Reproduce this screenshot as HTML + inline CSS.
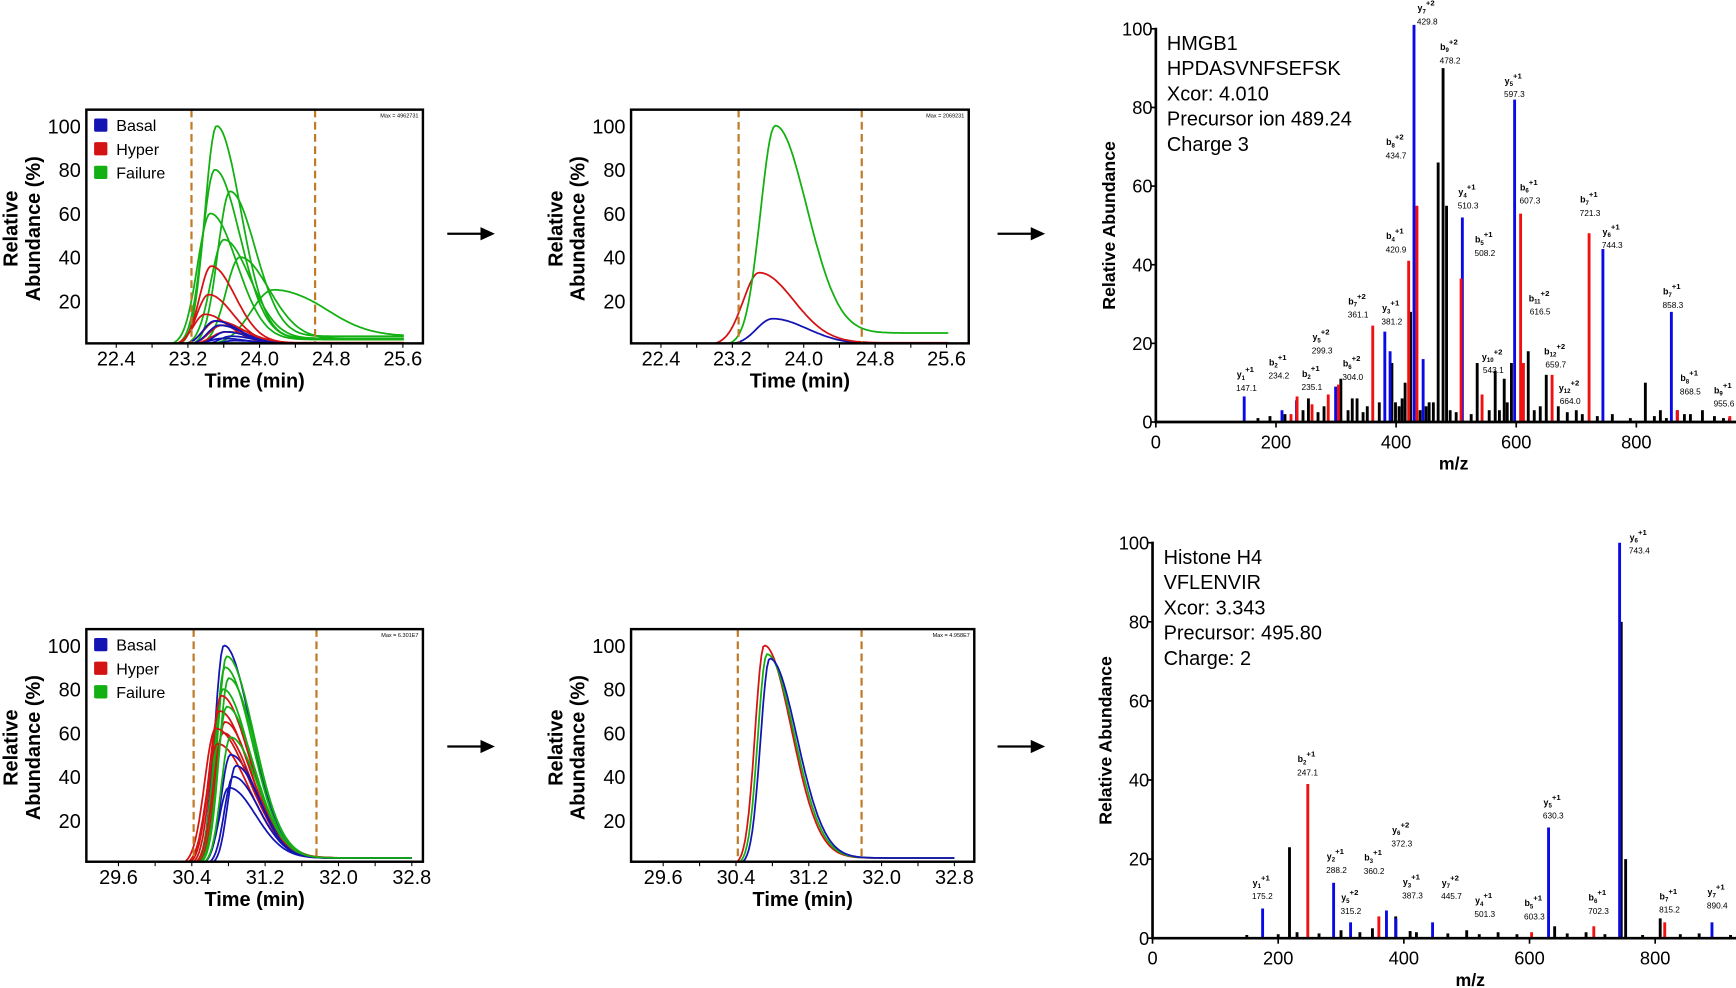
<!DOCTYPE html>
<html><head><meta charset="utf-8"><style>
html,body{margin:0;padding:0;background:#fff;}
svg{display:block;font-family:"Liberation Sans",Arial,sans-serif;}
</style></head><body>
<svg id="fig" width="1736" height="988" viewBox="0 0 1568 892" preserveAspectRatio="none" xmlns="http://www.w3.org/2000/svg"></svg>
<script>
// ---------- chromatogram data ----------
const tlGroup=['g','g','g','g','g','g','g','r','r','r','r','r','r','b','b','b','b','b','b'];
const tlApex=[23.52,23.50,23.67,23.45,23.78,24.15,23.60,23.46,23.43,23.39,23.52,23.58,23.62,23.50,23.55,23.62,23.68,23.58,23.72];
const tlHeight=[100,80,70,60,40,25,48,36,23,14,11,9,6,11,9,6,4,3,2];
const tlSpread=[1,1.05,1.05,1.1,1.2,1.9,1.1,1,1,1,1.1,1.1,1.2,1,1,1,1,1.1,1.1];
const tlTail=[3,3,4,2.5,3,4,3,1,1,0.8,0.6,0.5,0.5,0.5,0.5,0.4,0.4,0.3,0.3];

const tmGroup=['b','r','g'];
const tmApex=[23.65,23.50,23.68];
const tmHeight=[12,33,100];
const tmSpread=[1.2,1.2,1.1];
const tmTail=[0.5,1,5.5];

const blGroup=['b','g','g','g','g','r','r','r','r','r','b','b','b','g','r','b','g'];
const blApex=[30.75,30.78,30.76,30.80,30.74,30.72,30.70,30.76,30.74,30.68,30.82,30.85,30.80,30.78,30.66,30.88,30.82];
const blHeight=[100,95,90,85,80,77,70,65,60,55,50,40,35,72,62,45,58];
const blSpread=[1,1,1,1,1,1.05,1.1,1,1.05,1.15,1,0.95,1,1,1.2,0.9,1];
const blTail=[3,3,3,3,3,3,3,3,3,3,3,3,3,3,3,3,3];

const bmGroup=['r','g','b'];
const bmApex=[30.71,30.74,30.77];
const bmHeight=[100,96,94];
const bmSpread=[1,1,1];
const bmTail=[3,3,3];

// ---------- spectrum data ----------
const s1Mz=[478.2,470,424,415,393,335,254,308,327,399,455,535,565,580,592,620,650,700,815,840,890,910,484,
            170,190,215,245,270,280,320,345,352,372,405,410,440,450,462,490,500,525,555,572,585,630,640,670,685,710,735,760,790,830,850,880,930,945,
            147.1,210,234.2,299.3,381.2,390,429.8,445,510.3,597.3,744.3,858.3,868,955,
            225,235.1,260,287,304.0,361.1,420.9,434.7,508.2,543.1,607.3,612,659.7,721.3,868.5,955.6];
const s1Int=[90,66,28,10,15,6,6,11,6,5,5,15,13,11,15,18,12,3,10,3,2,3,55,
            1,1.5,2,3,2.5,4,3,2.5,4,5,4,6,3,4,5,3,2.5,2,3,3,5,3,4,4,2.5,2,1.5,2,1,1.5,1,2,1.5,1,
            6.5,3,5.5,9,23,18,101,16,52,82,44,28,3,1,
            2,6.5,4.5,7,9.5,24.5,41,55,36.5,7,53,15,12,48,3,1.5];
const s1Col=['k','k','k','k','k','k','k','k','k','k','k','k','k','k','k','k','k','k','k','k','k','k','k',
            'k','k','k','k','k','k','k','k','k','k','k','k','k','k','k','k','k','k','k','k','k','k','k','k','k','k','k','k','k','k','k','k','k','k',
            'b','b','b','b','b','b','b','b','b','b','b','b','b','b',
            'r','r','r','r','r','r','r','r','r','r','r','r','r','r','r','r'];
const s1Ion=['y','b','y','b','y','b','b','y','b','b','b','y','b','b','y','y','b','y','b','b','b','','y','b','b'];
const s1Sub=['7','9','5','8','4','6','7','6','4','5','7','3','11','7','5','10','12','1','2','2','6','','12','8','9'];
const s1Chg=['+2','+2','+1','+2','+1','+1','+1','+1','+1','+1','+2','+1','+2','+1','+2','+2','+2','+1','+1','+1','+2','','+2','+1','+1'];
const s1Lab=['429.8','478.2','597.3','434.7','510.3','607.3','721.3','744.3','420.9','508.2','361.1','381.2','616.5','858.3','299.3','543.1','659.7','147.1','234.2','235.1','304.0','','664.0','868.5','955.6'];
const s1LX=[450,488,595,398,518,621,721,758,398,546,335,391,638,859,275,560,664,149,203,258,326,0,688,888,944];
const s1LY=[104.5,94.6,86,70.4,57.7,58.9,55.8,47.6,46.5,45.6,29.9,28.2,30.7,32.4,20.8,15.8,17.2,11.3,14.4,11.5,14.1,-99,7.9,10.4,7.3];

const s2Mz=[218,746,753,387,808,500,640,150,200,230,265,300,330,350,410,420,470,520,550,580,660,690,720,780,840,870,920,
            175.2,288.2,315.2,372.3,387.3,445.7,630.3,743.4,890.4,
            247.1,360.2,603.3,702.3,815.2];
const s2Int=[23,80,20,5.5,5,2,3,0.8,1,1.5,1.2,2,1.5,2.5,1.8,1.5,1.2,1,1.5,1,1.2,1.5,1,0.8,1,1.2,0.8,
            7.5,14,4,7,5,4,28,100,4,
            39,5.5,1.5,3,4];
const s2Col=['k','k','k','k','k','k','k','k','k','k','k','k','k','k','k','k','k','k','k','k','k','k','k','k','k','k','k',
            'b','b','b','b','b','b','b','b','b','r','r','r','r','r'];
const s2Ion=['y','b','y','y','y','b','y','y','y','y','y','b','b','b','y'];
const s2Sub=['6','2','5','6','2','3','3','7','1','5','4','5','6','7','7'];
const s2Chg=['+1','+1','+1','+2','+1','+1','+1','+2','+1','+2','+1','+1','+1','+1','+1'];
const s2Lab=['743.4','247.1','630.3','372.3','288.2','360.2','387.3','445.7','175.2','315.2','501.3','603.3','702.3','815.2','890.4'];
const s2LX=[773,245,636,395,291,351,412,474,173,314,527,606,708,821,897];
const s2LY=[100.6,44.5,33.6,26.6,19.9,19.6,13.4,13.2,13.2,9.5,8.7,8.1,9.5,9.8,10.9];

// ---------- helpers ----------
const NS='http://www.w3.org/2000/svg';
const svg=document.getElementById('fig');
const COL={b:'#1414b4',r:'#d41414',g:'#12b012'};
const SCOL={b:'#0a0ae6',r:'#f01010',k:'#000'};
function el(tag,parent){const e=document.createElementNS(NS,tag);parent.appendChild(e);return e;}
function set(e,o){for(const k in o)e.setAttribute(k,o[k]);return e;}
function txt(parent,x,y,s,size,anchor,weight){const t=el('text',parent);set(t,{x:x,y:y,'font-size':size,'text-anchor':anchor||'start','font-weight':weight||'normal',fill:'#000'});t.textContent=s;return t;}

// ---------- chromatogram ----------
function chrom(cfg){
  const g=el('g',svg);
  
  
  const X=t=>cfg.x0+(t-cfg.t0)*cfg.pxPerMin;
  const Y=v=>cfg.yBase-v*1.975;
  const cp=el('clipPath',g);set(cp,{id:cfg.name+'-clip'});
  const cr=el('rect',cp);set(cr,{x:cfg.bx,y:cfg.by,width:cfg.bw,height:cfg.bh});
  const lines=el('g',g);lines.setAttribute('clip-path','url(#'+cfg.name+'-clip)');
  
  
  for(let i=0;i<cfg.apex.length;i++){
    let d='';
    const c=cfg.apex[i],h=cfg.height[i],sp=cfg.spread[i],tl=cfg.tail[i];
    for(let t=cfg.tStart;t<=cfg.tEnd+0.001;t+=0.02){
      const s=(t<c?cfg.sl:cfg.sr)*sp;
      let v=h*Math.exp(-((t-c)*(t-c))/(2*s*s));
      v+=tl/(1+Math.exp(-(t-c-0.35)/0.12));
      d+=(d?'L':'M')+X(t).toFixed(1)+','+Y(v).toFixed(1);
    }
    const p=el('path',lines);
    set(p,{d:d,fill:'none',stroke:COL[cfg.group[i]],'stroke-width':1.6,'stroke-linejoin':'round'});
    
    
  }
  cfg.dashes.forEach((t,j)=>{
    const l=el('line',g);
    set(l,{x1:X(t),x2:X(t),y1:cfg.by,y2:cfg.by+cfg.bh,stroke:'#c07a28','stroke-width':2,'stroke-dasharray':'7,4'});
    
    
  });
  const box=el('rect',g);
  set(box,{x:cfg.bx,y:cfg.by,width:cfg.bw,height:cfg.bh,fill:'none',stroke:'#000','stroke-width':2.2});
  
  
  const mx=txt(g,cfg.bx+cfg.bw-4,cfg.by+7,cfg.maxText,5,'end');
  
  
  [20,40,60,80,100].forEach(v=>{
    const t=txt(g,cfg.bx-5,Y(v)+6.5,String(v),18,'end');
    
    
  });
  for(let k=0;k<=8;k++){
    const t=cfg.t0+k*0.4;
    const tk=el('line',g);set(tk,{x1:X(t),x2:X(t),y1:cfg.by+cfg.bh,y2:cfg.by+cfg.bh+4,stroke:'#000','stroke-width':1});
    
    
    if(k%2===0){
      const lb=txt(g,X(t),cfg.by+cfg.bh+20,t.toFixed(1),18,'middle');
      
      
    }
  }
  const xt=txt(g,cfg.bx+cfg.bw/2,cfg.by+cfg.bh+40,'Time (min)',18,'middle','bold');
  
  
  const cy=cfg.by+cfg.bh/2+2;
  const y1=txt(g,0,0,'Relative',18,'middle','bold');set(y1,{transform:'translate('+(cfg.bx-62)+','+cy+') rotate(-90)'});
  
  
  const y2=txt(g,0,0,'Abundance (%)',18,'middle','bold');set(y2,{transform:'translate('+(cfg.bx-42)+','+cy+') rotate(-90)'});
  
  
  if(cfg.legend){
    const lg=el('g',g);
    
    
    [['b','Basal'],['r','Hyper'],['g','Failure']].forEach((e,j)=>{
      const r=el('rect',lg);set(r,{x:cfg.bx+7,y:cfg.by+8+j*21.3,width:12,height:12,fill:COL[e[0]],rx:1.5});
      
      
      const t=txt(lg,cfg.bx+27,cfg.by+19.5+j*21.3,e[1],14.5);
      
      
    });
  }
}
chrom({name:'chrom-top-left',bx:78,by:99,bw:304,bh:211,x0:105,t0:22.4,pxPerMin:80.9,yBase:311.5,tStart:22.85,tEnd:25.62,sl:0.13,sr:0.27,
  apex:tlApex,height:tlHeight,spread:tlSpread,tail:tlTail,group:tlGroup,dashes:[23.24,24.62],legend:true,maxText:'Max = 4962731'});
chrom({name:'chrom-top-middle',bx:570,by:99,bw:305,bh:211,x0:597,t0:22.4,pxPerMin:80.6,yBase:311.5,tStart:22.9,tEnd:25.62,sl:0.15,sr:0.32,
  apex:tmApex,height:tmHeight,spread:tmSpread,tail:tmTail,group:tmGroup,dashes:[23.27,24.65],legend:false,maxText:'Max = 2069231'});
chrom({name:'chrom-bottom-left',bx:78,by:568,bw:304,bh:210,x0:107,t0:29.6,pxPerMin:82.8,yBase:780.5,tStart:30.1,tEnd:32.8,sl:0.1,sr:0.3,
  apex:blApex,height:blHeight,spread:blSpread,tail:blTail,group:blGroup,dashes:[30.42,31.76],legend:true,maxText:'Max = 6.301E7'});
chrom({name:'chrom-bottom-middle',bx:570,by:568,bw:310,bh:210,x0:599,t0:29.6,pxPerMin:82.2,yBase:780.5,tStart:30.2,tEnd:32.8,sl:0.1,sr:0.3,
  apex:bmApex,height:bmHeight,spread:bmSpread,tail:bmTail,group:bmGroup,dashes:[30.42,31.78],legend:false,maxText:'Max = 4.958E7'});

// ---------- arrows ----------
[[404,211],[901,211],[404,674],[901,674]].forEach(a=>{
  const g=el('g',svg);
  
  
  const l=el('line',g);set(l,{x1:a[0],y1:a[1],x2:a[0]+32,y2:a[1],stroke:'#000','stroke-width':2});
  const p=el('polygon',g);set(p,{points:(a[0]+30)+','+(a[1]-6)+' '+(a[0]+43)+','+a[1]+' '+(a[0]+30)+','+(a[1]+6),fill:'#000'});
});

// ---------- spectra ----------
function spectrum(cfg){
  const g=el('g',svg);
  
  
  const X=m=>cfg.ax+m*cfg.pxPerMz;
  const Y=v=>cfg.ay0-v*cfg.pxPerInt;
  for(let i=0;i<cfg.mz.length;i++){
    const b=el('line',g);
    set(b,{x1:X(cfg.mz[i]),x2:X(cfg.mz[i]),y1:cfg.ay0,y2:Y(cfg.int[i]),stroke:SCOL[cfg.col[i]],'stroke-width':2.6});
    
    
  }
  for(let i=0;i<cfg.lab.length;i++){
    if(!cfg.lab[i])continue;
    const lx=X(cfg.lx[i]),ly=Y(cfg.ly[i]);
    const t=el('text',g);
    set(t,{x:lx,y:ly,'font-size':8,'font-weight':'bold','text-anchor':'middle',fill:'#000'});
    
    
    const a=el('tspan',t);a.textContent=cfg.ion[i];
    const b=el('tspan',t);set(b,{'font-size':5.5,dy:2});b.textContent=cfg.sub[i];
    const c=el('tspan',t);set(c,{'font-size':7,dy:-7});c.textContent=cfg.chg[i];
    const m=txt(g,lx+1,ly+12,cfg.lab[i],7.5,'middle');
    
    
  }
  const ya=el('line',g);set(ya,{x1:cfg.ax,x2:cfg.ax,y1:Y(100)-1,y2:cfg.ay0+1,stroke:'#000','stroke-width':2.4});
  
  
  const xa=el('line',g);set(xa,{x1:cfg.ax-1,x2:1568,y1:cfg.ay0,y2:cfg.ay0,stroke:'#000','stroke-width':2.4});
  
  
  [0,20,40,60,80,100].forEach(v=>{
    const tk=el('line',g);set(tk,{x1:cfg.ax-4,x2:cfg.ax,y1:Y(v),y2:Y(v),stroke:'#000','stroke-width':1.5});
    
    
    const t=txt(g,cfg.ax-3,Y(v)+6,String(v),16.5,'end');
    
    
  });
  [0,200,400,600,800].forEach(v=>{
    const tk=el('line',g);set(tk,{x1:X(v),x2:X(v),y1:cfg.ay0,y2:cfg.ay0+5,stroke:'#000','stroke-width':1.5});
    
    
    const t=txt(g,X(v),cfg.ay0+24,String(v),16.5,'middle');
    
    
  });
  const xt=txt(g,cfg.mzTitleX,cfg.ay0+43,'m/z',16,'middle','bold');
  
  
  const yt=txt(g,0,0,'Relative Abundance',16,'middle','bold');
  set(yt,{transform:'translate('+(cfg.ax-37)+','+Y(50)+') rotate(-90)'});
  
  
  cfg.info.forEach((s,j)=>{
    const t=txt(g,cfg.ax+10,Y(100)+19+j*22.8,s,18);
    
    
  });
}
spectrum({name:'spectrum-hmgb1',ax:1044,ay0:381,pxPerMz:0.5425,pxPerInt:3.55,mz:s1Mz,int:s1Int,col:s1Col,
  ion:s1Ion,sub:s1Sub,chg:s1Chg,lab:s1Lab,lx:s1LX,ly:s1LY,mzTitleX:1313,
  info:['HMGB1','HPDASVNFSEFSK','Xcor: 4.010','Precursor ion 489.24','Charge 3']});
spectrum({name:'spectrum-histone-h4',ax:1041,ay0:847,pxPerMz:0.5675,pxPerInt:3.57,mz:s2Mz,int:s2Int,col:s2Col,
  ion:s2Ion,sub:s2Sub,chg:s2Chg,lab:s2Lab,lx:s2LX,ly:s2LY,mzTitleX:1328,
  info:['Histone H4','VFLENVIR','Xcor: 3.343','Precursor: 495.80','Charge: 2']});
</script>
</body></html>
